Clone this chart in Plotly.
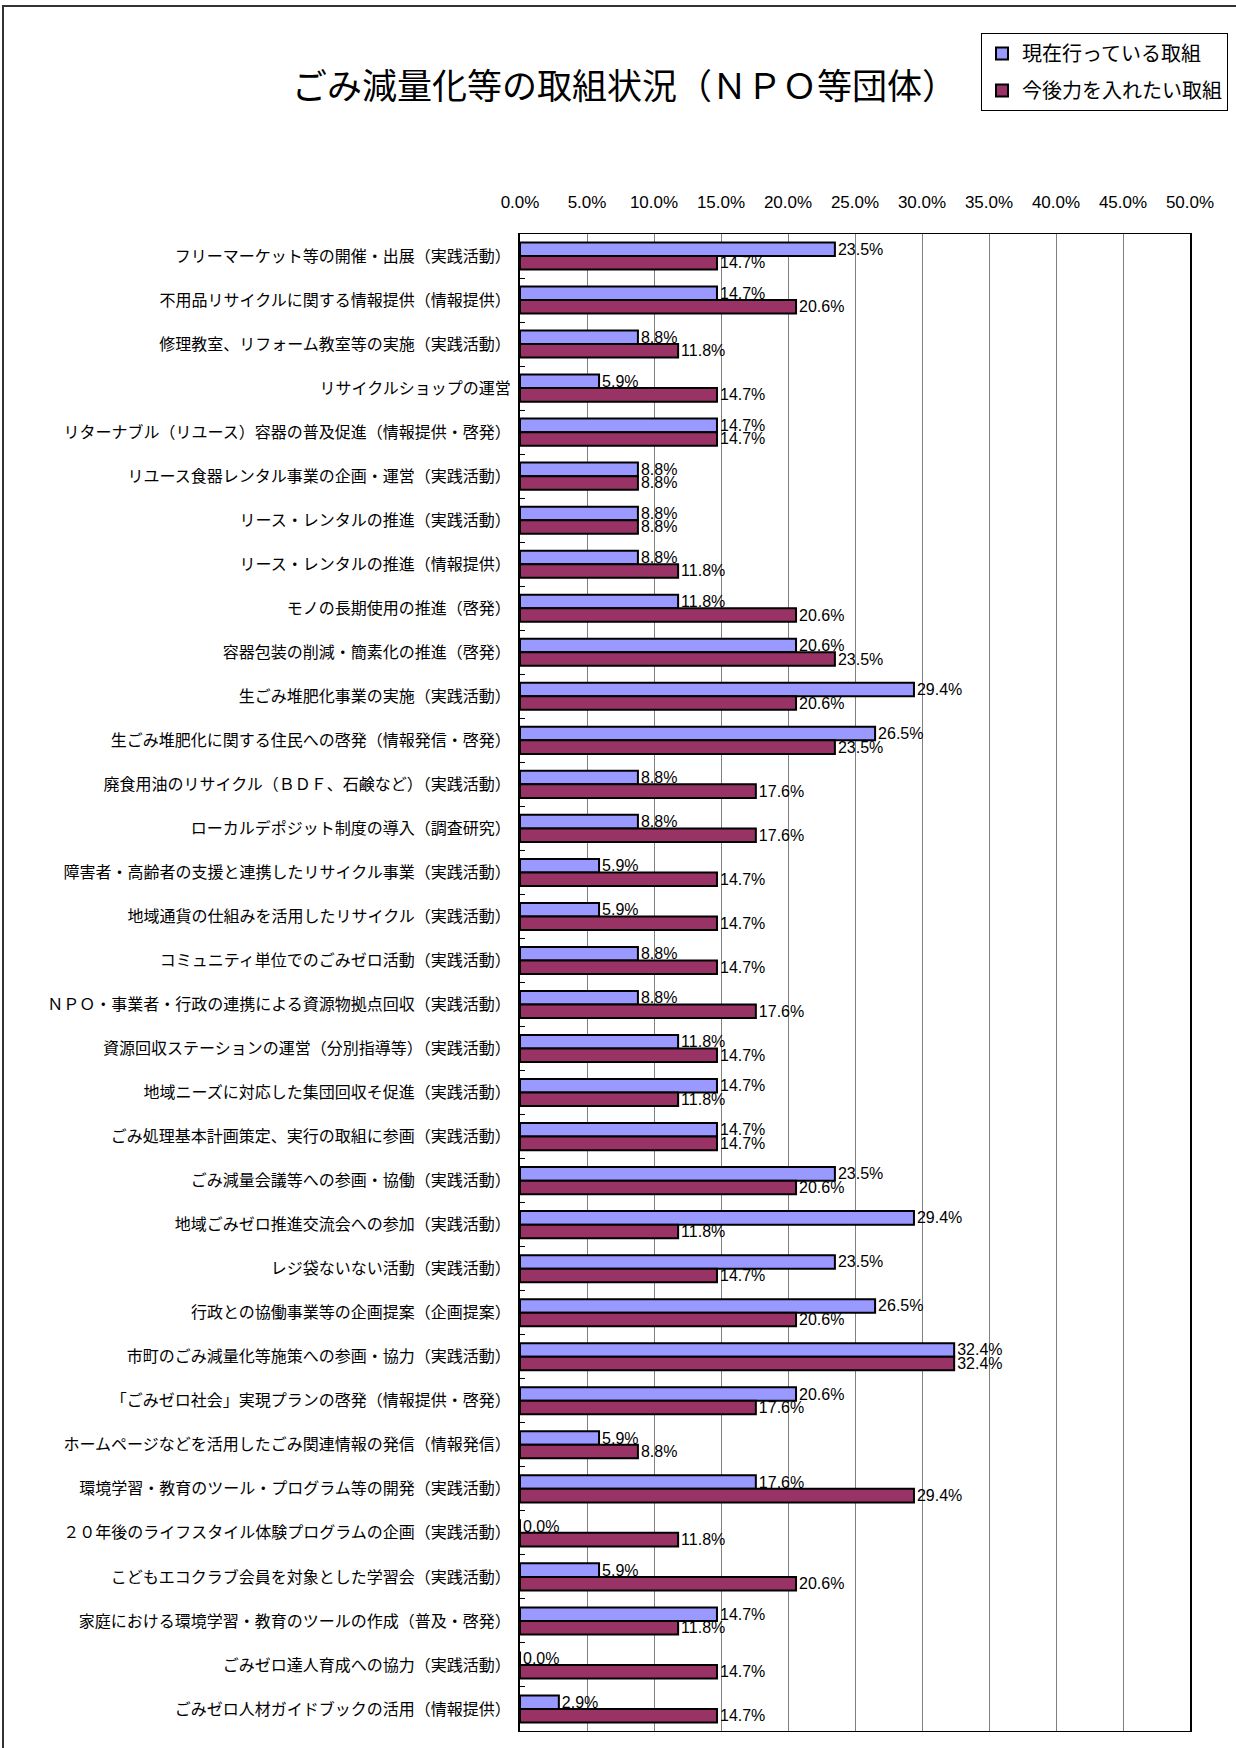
import plotly.graph_objects as go

categories = [
    "フリーマーケット等の開催・出展（実践活動）",
    "不用品リサイクルに関する情報提供（情報提供）",
    "修理教室、リフォーム教室等の実施（実践活動）",
    "リサイクルショップの運営",
    "リターナブル（リユース）容器の普及促進（情報提供・啓発）",
    "リユース食器レンタル事業の企画・運営（実践活動）",
    "リース・レンタルの推進（実践活動）",
    "リース・レンタルの推進（情報提供）",
    "モノの長期使用の推進（啓発）",
    "容器包装の削減・簡素化の推進（啓発）",
    "生ごみ堆肥化事業の実施（実践活動）",
    "生ごみ堆肥化に関する住民への啓発（情報発信・啓発）",
    "廃食用油のリサイクル（ＢＤＦ、石鹸など）（実践活動）",
    "ローカルデポジット制度の導入（調査研究）",
    "障害者・高齢者の支援と連携したリサイクル事業（実践活動）",
    "地域通貨の仕組みを活用したリサイクル（実践活動）",
    "コミュニティ単位でのごみゼロ活動（実践活動）",
    "ＮＰＯ・事業者・行政の連携による資源物拠点回収（実践活動）",
    "資源回収ステーションの運営（分別指導等）（実践活動）",
    "地域ニーズに対応した集団回収そ促進（実践活動）",
    "ごみ処理基本計画策定、実行の取組に参画（実践活動）",
    "ごみ減量会議等への参画・協働（実践活動）",
    "地域ごみゼロ推進交流会への参加（実践活動）",
    "レジ袋ないない活動（実践活動）",
    "行政との協働事業等の企画提案（企画提案）",
    "市町のごみ減量化等施策への参画・協力（実践活動）",
    "「ごみゼロ社会」実現プランの啓発（情報提供・啓発）",
    "ホームページなどを活用したごみ関連情報の発信（情報発信）",
    "環境学習・教育のツール・プログラム等の開発（実践活動）",
    "２０年後のライフスタイル体験プログラムの企画（実践活動）",
    "こどもエコクラブ会員を対象とした学習会（実践活動）",
    "家庭における環境学習・教育のツールの作成（普及・啓発）",
    "ごみゼロ達人育成への協力（実践活動）",
    "ごみゼロ人材ガイドブックの活用（情報提供）",
]

current = [23.5, 14.7, 8.8, 5.9, 14.7, 8.8, 8.8, 8.8, 11.8, 20.6,
           29.4, 26.5, 8.8, 8.8, 5.9, 5.9, 8.8, 8.8, 11.8, 14.7,
           14.7, 23.5, 29.4, 23.5, 26.5, 32.4, 20.6, 5.9, 17.6, 0.0,
           5.9, 14.7, 0.0, 2.9]
future = [14.7, 20.6, 11.8, 14.7, 14.7, 8.8, 8.8, 11.8, 20.6, 23.5,
          20.6, 23.5, 17.6, 17.6, 14.7, 14.7, 14.7, 17.6, 14.7, 11.8,
          14.7, 20.6, 11.8, 14.7, 20.6, 32.4, 17.6, 8.8, 29.4, 11.8,
          20.6, 11.8, 14.7, 14.7]

series_names = ["現在行っている取組", "今後力を入れたい取組"]
title_text = "ごみ減量化等の取組状況（ＮＰＯ等団体）"

W, H = 1236, 1748
L, R, T, B = 520, 1190, 234, 1731

def px(x):
    return (x - L) / (R - L)

def py(y):
    return (B - y) / (B - T)

JP = "Noto Sans CJK JP"
NUM = "Liberation Sans Narrow, Liberation Sans, Arial Narrow, sans-serif"

fig = go.Figure()
for i, (name, vals, col) in enumerate([(series_names[0], current, "#9999FF"),
                                       (series_names[1], future, "#993366")]):
    fig.add_trace(go.Bar(
        y=categories, x=vals, name=name, orientation="h",
        legendgroup=f"g{i}",
        marker=dict(color=col, line=dict(color="black", width=2)),
        text=[f"{v:.1f}%" for v in vals],
        textposition="outside", cliponaxis=False, constraintext="none",
        textfont=dict(family=NUM, size=16, color="black"),
    ))

fig.update_layout(
    width=W, height=H,
    margin=dict(l=L, r=W - R, t=T, b=H - B, pad=0, autoexpand=False),
    paper_bgcolor="white", plot_bgcolor="white",
    barmode="group", bargap=0.385, bargroupgap=0,
    font=dict(family=JP, color="black"),
    showlegend=True,
    legend=dict(
        x=px(981), y=py(33), xanchor="left", yanchor="top",
        bordercolor="black", borderwidth=1, bgcolor="white",
        font=dict(family=JP, size=20, color="black"),
        itemwidth=30, traceorder="grouped", tracegroupgap=8,
    ),
    xaxis=dict(
        side="top", range=[0, 50], dtick=5, tick0=0,
        tickformat=".1f", ticksuffix="%",
        tickfont=dict(family=NUM, size=17, color="black"),
        showgrid=True, gridcolor="#808080", gridwidth=1,
        showline=True, linecolor="black", linewidth=1, mirror=True,
        ticks="", ticklabelstandoff=18, zeroline=False, fixedrange=True,
    ),
    yaxis=dict(
        autorange="reversed", type="category",
        tickfont=dict(family=JP, size=16, color="black"),
        showline=True, linecolor="black", linewidth=2, mirror=True,
        ticks="inside", tickson="boundaries", ticklen=5, tickcolor="black",
        ticklabelstandoff=4, showgrid=False,
    ),
    annotations=[dict(
        text=title_text, xref="paper", yref="paper",
        x=px(624), y=py(84), xanchor="center", yanchor="middle",
        showarrow=False, font=dict(family=JP, size=35, color="black"),
    )],
    shapes=[dict(
        type="rect", xref="paper", yref="paper",
        x0=px(3), x1=px(1250), y0=py(6), y1=py(1760),
        line=dict(color="#333333", width=2), fillcolor="rgba(0,0,0,0)",
        layer="below",
    )],
)

fig.write_html("out.html")
